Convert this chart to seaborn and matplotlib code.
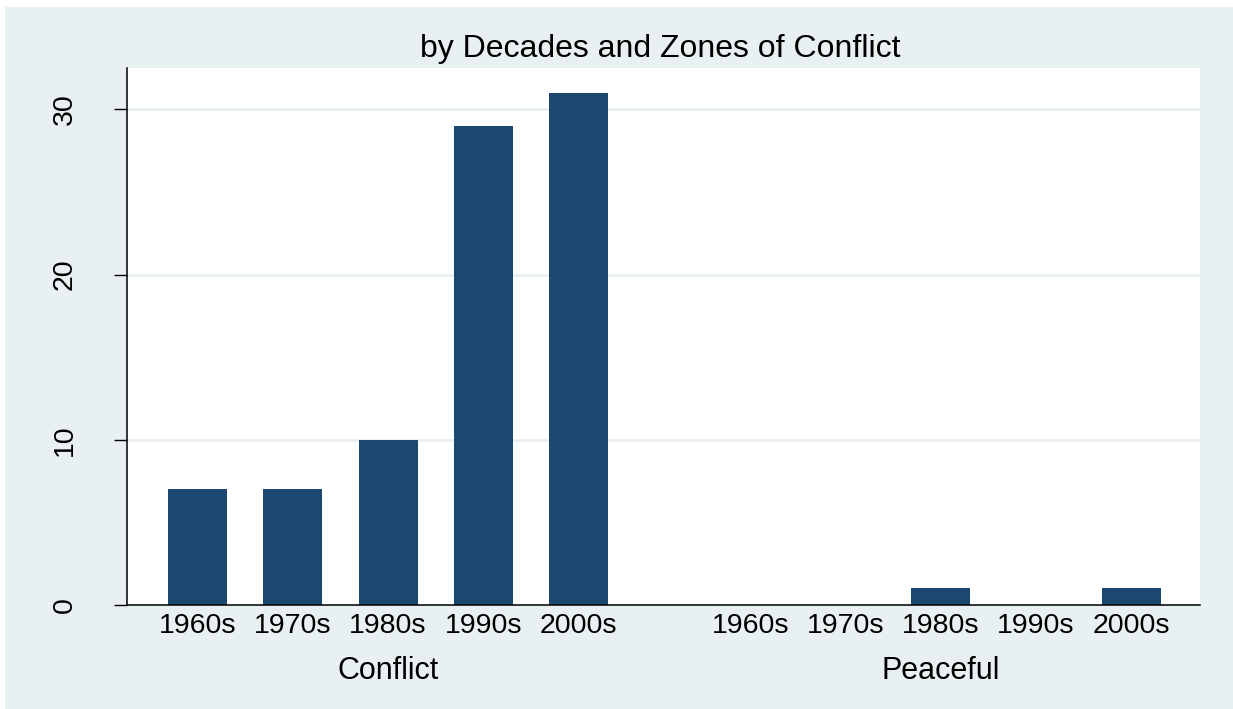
import pandas as pd
import seaborn as sns
import matplotlib.pyplot as plt
from matplotlib.patches import Rectangle

## Data
decades = ["1960s", "1970s", "1980s", "1990s", "2000s"]
zones = ["Conflict", "Peaceful"]
conflict_counts = [7, 7, 10, 29, 31]
peaceful_counts = [0, 0, 1, 0, 1]
title = "by Decades and Zones of Conflict"

bar_color = "#1b4770"
bg_color = "#e9f0f2"
gap = 0.8  # extra space between the two zone groups

rows = []
for gi, (zone, counts) in enumerate(zip(zones, [conflict_counts, peaceful_counts])):
    for di, (dec, c) in enumerate(zip(decades, counts)):
        rows.append({"zone": zone, "decade": dec, "count": c,
                     "pos": gi * (len(decades) + gap) + di})
df = pd.DataFrame(rows)

plt.rcParams["font.family"] = ["Liberation Sans", "DejaVu Sans"]

fig = plt.figure(figsize=(12.33, 7.09), dpi=100, facecolor="white")
fig.patches.append(Rectangle((5 / 1233, 0), 1, 702 / 709, transform=fig.transFigure,
                             facecolor=bg_color, edgecolor="none", zorder=-1))
ax = fig.add_axes([127 / 1233, 1 - 605 / 709, (1200 - 127) / 1233, (605 - 68) / 709])
ax.set_facecolor("white")

sns.barplot(data=df, x="pos", y="count", native_scale=True, width=0.62,
            color=bar_color, saturation=1, errorbar=None, linewidth=0, ax=ax)

ax.set_xlim(-0.74, 10.52)
ax.set_ylim(0, 32.5)
ax.set_yticks([0, 10, 20, 30])
ax.set_xticks(df["pos"])
ax.set_xticklabels(df["decade"])
ax.set_xlabel("")
ax.set_ylabel("")

ax.yaxis.grid(True, color=bg_color, lw=2)
ax.set_axisbelow(True)
for s in ["top", "right"]:
    ax.spines[s].set_visible(False)
for s in ["left", "bottom"]:
    ax.spines[s].set_color("black")
    ax.spines[s].set_linewidth(1.1)

ax.tick_params(axis="x", length=0, pad=6, labelsize=20.5)
ax.tick_params(axis="y", length=9.5, width=1, pad=26, labelsize=20.5, labelrotation=90)
plt.setp(ax.get_yticklabels(), va="center")

# zone labels under each group
for gi, zone in enumerate(zones):
    center = df.loc[df.zone == zone, "pos"].mean()
    ax.text(center, -0.1384, zone, transform=ax.get_xaxis_transform(),
            ha="center", va="baseline", fontsize=22)

ax.text(0.497, 1.02, title, transform=ax.transAxes, ha="center", va="baseline", fontsize=23)

fig.savefig("out.png", dpi=100, facecolor=fig.get_facecolor())
